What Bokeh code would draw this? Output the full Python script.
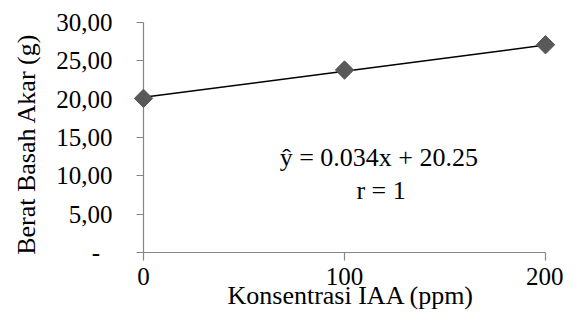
import math
from bokeh.plotting import figure
from bokeh.models import Range1d, CustomJSTickFormatter, FixedTicker, Label
from bokeh.embed import file_html
from bokeh.resources import INLINE

konsentrasi = [0, 100, 200]
berat = [20.1, 23.8, 27.1]
slope = 0.034
intercept = 20.25
y_ticks = [0, 5, 10, 15, 20, 25, 30]
x_ticks = [0, 100, 200]

FONT = "Liberation Serif"
NB = "\u00a0"

p = figure(width=563, height=315, output_backend="svg", toolbar_location=None,
           x_range=Range1d(0, 200), y_range=Range1d(0, 30),
           min_border_left=143, min_border_right=18, min_border_top=22, min_border_bottom=63)
p.outline_line_color = None
p.grid.visible = False
p.background_fill_color = "white"

trend_y = [slope * x + intercept for x in konsentrasi]
p.line(konsentrasi, trend_y, line_color="black", line_width=1.5, level="overlay")
p.scatter(konsentrasi, berat, marker="square", size=13, angle=math.pi / 4,
          fill_color="#595959", line_color="#595959", level="overlay")

for ax in (p.xaxis[0], p.yaxis[0]):
    ax.axis_line_color = "#868686"
    ax.axis_line_width = 1.2
    ax.major_tick_line_color = "#868686"
    ax.major_tick_line_width = 1.2
    ax.minor_tick_line_color = None
    ax.major_tick_in = 0
    ax.major_label_text_font = FONT
    ax.major_label_text_color = "black"
    ax.axis_label_text_font = FONT
    ax.axis_label_text_font_style = "normal"
    ax.axis_label_text_color = "black"
    ax.major_label_text_font_size = "25px"
    ax.axis_label_text_font_size = "26px"
    ax.major_label_text_line_height = 1.0
    ax.axis_label_text_line_height = 1.0

p.xaxis.ticker = FixedTicker(ticks=x_ticks)
p.yaxis.ticker = FixedTicker(ticks=y_ticks)
p.xaxis.major_tick_out = 8
p.yaxis.major_tick_out = 7
p.xaxis.major_label_standoff = 7
p.yaxis.major_label_standoff = 24
p.xaxis.axis_label = NB * 2 + "Konsentrasi IAA (ppm)"
p.yaxis.axis_label = "Berat Basah Akar (g)" + NB * 2
p.xaxis.axis_label_standoff = -7
p.yaxis.axis_label_standoff = 12
p.yaxis.formatter = CustomJSTickFormatter(code="""
if (tick == 0) { return '-\\u00a0\\u00a0'; }
return tick.toFixed(2).replace('.', ',');
""")

p.add_layout(Label(x=118.7, y=12.4, text="ŷ  = 0.034x + 20.25", text_align="center", text_baseline="alphabetic",
                   text_font=FONT, text_font_size="26px", text_color="black"))
p.add_layout(Label(x=118.2, y=8.1, text="r = 1", text_align="center", text_baseline="alphabetic",
                   text_font=FONT, text_font_size="26px", text_color="black"))

open("out.html", "w").write(file_html(p, INLINE))
